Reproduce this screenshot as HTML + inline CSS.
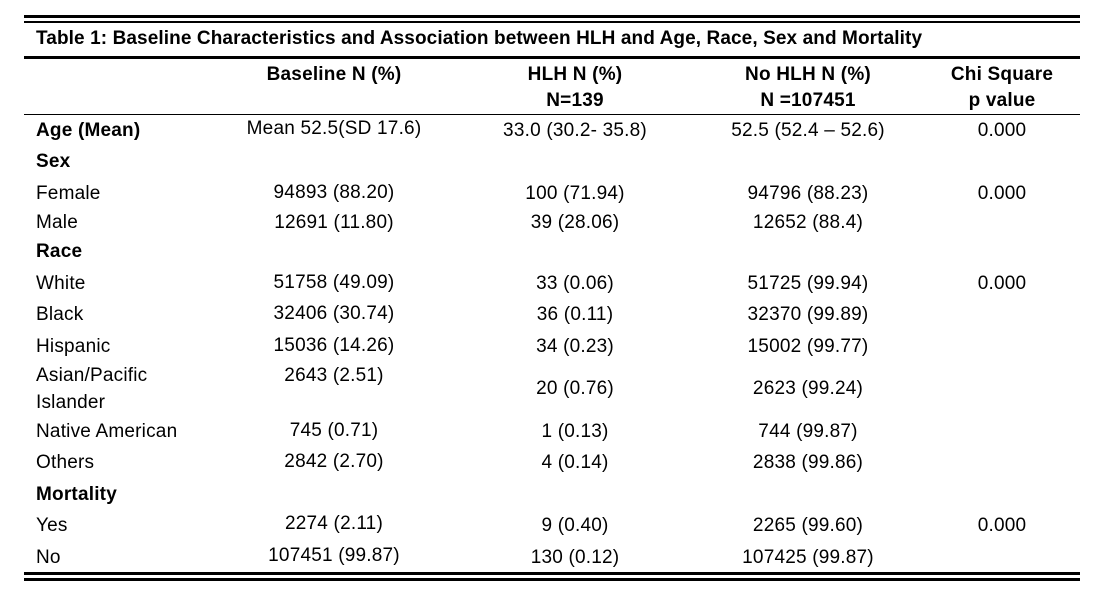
<!DOCTYPE html>
<html><head><meta charset="utf-8"><style>
body{margin:0;width:1096px;height:606px;background:#fff;position:relative;overflow:hidden;font-family:"Liberation Sans",Arial,sans-serif;color:#000;font-size:19px;letter-spacing:0.2px}
.l{position:absolute;left:24px;width:1056px;background:#000}
.t{position:absolute;white-space:nowrap;transform:translateY(-50%)}
.c{position:absolute;white-space:nowrap;transform:translate(-50%,-50%)}
</style></head><body>
<div class="l" style="top:15px;height:3px"></div>
<div class="l" style="top:21px;height:2px"></div>
<div class="l" style="top:56px;height:3px"></div>
<div class="l" style="top:114px;height:1px"></div>
<div class="l" style="top:572px;height:3px"></div>
<div class="l" style="top:578px;height:3px"></div>
<div class="t" style="left:36px;top:39px;font-weight:bold;font-size:19px;letter-spacing:0.1px">Table 1: Baseline Characteristics and Association between HLH and Age, Race, Sex and Mortality</div>

<div class="c" style="left:334px;top:75px;font-weight:bold">Baseline N (%)</div>
<div class="c" style="left:575px;top:75px;font-weight:bold">HLH N (%)</div>
<div class="c" style="left:575px;top:101px;font-weight:bold">N=139</div>
<div class="c" style="left:808px;top:75px;font-weight:bold">No HLH N (%)</div>
<div class="c" style="left:808px;top:101px;font-weight:bold">N =107451</div>
<div class="c" style="left:1002px;top:75px;font-weight:bold">Chi Square</div>
<div class="c" style="left:1002px;top:101px;font-weight:bold">p value</div>

<div class="t" style="left:36px;top:131px;font-weight:bold">Age (Mean)</div>
<div class="c" style="left:334px;top:129px">Mean 52.5(SD 17.6)</div>
<div class="c" style="left:575px;top:131px">33.0 (30.2- 35.8)</div>
<div class="c" style="left:808px;top:131px">52.5 (52.4 – 52.6)</div>
<div class="c" style="left:1002px;top:131px">0.000</div>

<div class="t" style="left:36px;top:162px;font-weight:bold">Sex</div>
<div class="t" style="left:36px;top:194px">Female</div>
<div class="c" style="left:334px;top:193px">94893 (88.20)</div>
<div class="c" style="left:575px;top:194px">100 (71.94)</div>
<div class="c" style="left:808px;top:194px">94796 (88.23)</div>
<div class="c" style="left:1002px;top:194px">0.000</div>
<div class="t" style="left:36px;top:223px">Male</div>
<div class="c" style="left:334px;top:223px">12691 (11.80)</div>
<div class="c" style="left:575px;top:223px">39 (28.06)</div>
<div class="c" style="left:808px;top:223px">12652 (88.4)</div>

<div class="t" style="left:36px;top:252px;font-weight:bold">Race</div>
<div class="t" style="left:36px;top:284px">White</div>
<div class="c" style="left:334px;top:283px">51758 (49.09)</div>
<div class="c" style="left:575px;top:284px">33 (0.06)</div>
<div class="c" style="left:808px;top:284px">51725 (99.94)</div>
<div class="c" style="left:1002px;top:284px">0.000</div>
<div class="t" style="left:36px;top:315px">Black</div>
<div class="c" style="left:334px;top:314px">32406 (30.74)</div>
<div class="c" style="left:575px;top:315px">36 (0.11)</div>
<div class="c" style="left:808px;top:315px">32370 (99.89)</div>
<div class="t" style="left:36px;top:347px">Hispanic</div>
<div class="c" style="left:334px;top:346px">15036 (14.26)</div>
<div class="c" style="left:575px;top:347px">34 (0.23)</div>
<div class="c" style="left:808px;top:347px">15002 (99.77)</div>
<div class="t" style="left:36px;top:376px">Asian/Pacific</div>
<div class="t" style="left:36px;top:403px">Islander</div>
<div class="c" style="left:334px;top:376px">2643 (2.51)</div>
<div class="c" style="left:575px;top:389px">20 (0.76)</div>
<div class="c" style="left:808px;top:389px">2623 (99.24)</div>
<div class="t" style="left:36px;top:432px">Native American</div>
<div class="c" style="left:334px;top:431px">745 (0.71)</div>
<div class="c" style="left:575px;top:432px">1 (0.13)</div>
<div class="c" style="left:808px;top:432px">744 (99.87)</div>
<div class="t" style="left:36px;top:463px">Others</div>
<div class="c" style="left:334px;top:462px">2842 (2.70)</div>
<div class="c" style="left:575px;top:463px">4 (0.14)</div>
<div class="c" style="left:808px;top:463px">2838 (99.86)</div>

<div class="t" style="left:36px;top:495px;font-weight:bold">Mortality</div>
<div class="t" style="left:36px;top:526px">Yes</div>
<div class="c" style="left:334px;top:524px">2274 (2.11)</div>
<div class="c" style="left:575px;top:526px">9 (0.40)</div>
<div class="c" style="left:808px;top:526px">2265 (99.60)</div>
<div class="c" style="left:1002px;top:526px">0.000</div>
<div class="t" style="left:36px;top:558px">No</div>
<div class="c" style="left:334px;top:556px">107451 (99.87)</div>
<div class="c" style="left:575px;top:558px">130 (0.12)</div>
<div class="c" style="left:808px;top:558px">107425 (99.87)</div>
</body></html>
